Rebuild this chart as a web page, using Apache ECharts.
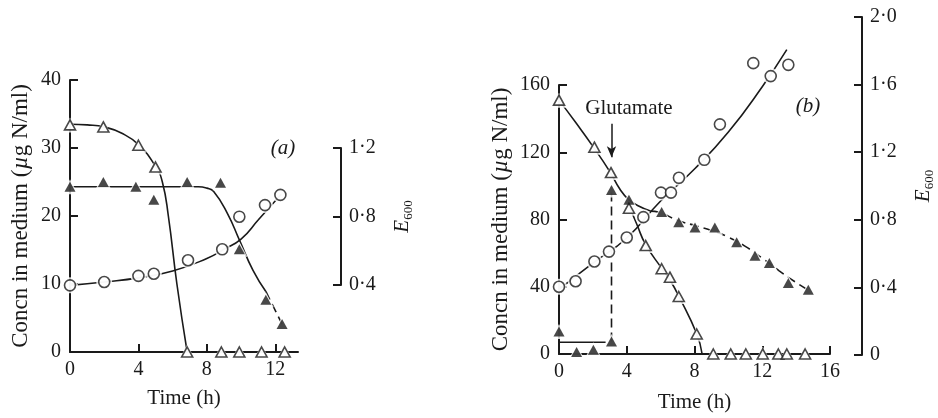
<!DOCTYPE html>
<html lang="en">
<head>
<meta charset="utf-8" />
<title>Concn in medium vs time</title>
<style>
  html, body { margin: 0; padding: 0; background: #fff; }
  #chart { width: 938px; height: 418px; }
</style>
</head>
<body>
<div id="chart"></div>
<script src="https://cdn.jsdelivr.net/npm/echarts@6/dist/echarts.min.js"></script>
<script>
// ---- panel (a) ----  [time (h), concn (ug N/ml)] ; cells as [time, E600]
const aOpenTri = [[0, 33.4], [1.95, 33.1], [4, 30.4], [5, 27.2], [6.85, 0], [8.85, 0], [9.9, 0], [11.2, 0], [12.55, 0]];
const aOpenFit = [[0, 33.5], [1, 33.4], [2, 33.1], [3, 32.2], [4, 30.5], [5, 27.3], [5.4, 25], [5.75, 20], [6.25, 10], [6.85, 0]];
const aOpenZero = [[6.85, 0], [13.33, 0]];
const aFilledTri = [[0, 24.3], [1.95, 25.0], [3.85, 24.3], [4.9, 22.4], [6.85, 25.0], [8.8, 24.9], [9.9, 15.1], [11.45, 7.7], [12.4, 4.1]];
const aFilledFit = [[0, 24.3], [3, 24.3], [6, 24.3], [7.5, 24.3], [8, 24.1], [8.4, 23.6], [9.2, 20.4], [9.9, 16.5], [10.7, 12], [11.45, 8.9]];
const aFilledTail = [[11.45, 8.9], [12.4, 4.1]];
const aCells = [[0, 0.392], [2, 0.412], [4, 0.448], [4.9, 0.46], [6.9, 0.54], [8.9, 0.604], [9.9, 0.796], [11.4, 0.864], [12.3, 0.924]];
const aCellsFit = [[0, 0.392], [2, 0.412], [4, 0.436], [6, 0.476], [8, 0.55], [9, 0.604], [10, 0.664], [11, 0.776], [12.35, 0.928]];

// ---- panel (b) ----
const bOpenTri = [[0, 151], [2.09, 123], [3.07, 107.9], [4.13, 86.7], [5.12, 64.5], [6.06, 50.7], [6.55, 45.7], [7.07, 34.2], [8.13, 11.9],
  [9.11, 0], [10.14, 0], [11.03, 0], [12.03, 0], [12.95, 0], [13.45, 0], [14.53, 0]];
const bOpenFit = [[0, 151], [1, 137.5], [2, 123.5], [3, 108.5], [3.6, 98], [4.1, 92], [4.7, 88], [5.4, 85]];
const bOpenFall = [[4.15, 88], [4.6, 77], [5.12, 65], [6.06, 51], [6.55, 44], [7.07, 34.5], [8.13, 12], [8.45, 0]];
const bOpenZero = [[8.45, 0], [15, 0]];
const bFilledTri = [[0, 13.4], [1.04, 1.2], [2.03, 2.6], [3.1, 7.5], [3.1, 97.6], [4.13, 91.7], [6.06, 84.4], [7.07, 78.4], [8.03, 75.2],
  [9.2, 75.2], [10.49, 66.5], [11.57, 58.4], [12.42, 54.1], [13.54, 42.2], [14.72, 38.2]];
const bFilledFit = [[5.4, 85], [6, 84], [7, 79.5], [8, 76.5], [9, 73.5], [10, 69.5], [11, 64], [12, 57], [13, 49.5], [14, 42.5], [14.8, 37.5]];
const bGlutamateDrop = [[3.1, 7.5], [3.1, 97.6]];
const bBase = [[0, 7], [2.75, 7]];
const bCells = [[0, 0.40], [0.98, 0.433], [2.09, 0.55], [2.95, 0.609], [4.0, 0.693], [4.98, 0.814], [6.02, 0.96], [6.61, 0.96], [7.08, 1.048],
  [8.58, 1.155], [9.5, 1.366], [11.47, 1.73], [12.5, 1.653], [13.54, 1.72]];
const bCellsFit = [[0, 0.384], [2, 0.54], [4, 0.69], [6, 0.91], [8, 1.10], [10, 1.32], [12, 1.59], [13.45, 1.81]];

const aTicksX = [0, 4, 8, 12];

const ink = '#1a1a1a';
const serif = "'Liberation Serif', 'Times New Roman', serif";
const e600 = v => (v === 0 ? '0' : v.toFixed(1).replace('.', '·'));

function curve(data, xi, yi, dashed, smooth) {
  return {
    type: 'line', data, xAxisIndex: xi, yAxisIndex: yi,
    smooth: smooth === undefined ? 0.5 : smooth,
    showSymbol: false, symbol: 'none', clip: false, silent: true, z: 2,
    lineStyle: { color: ink, width: 1.6, type: dashed ? [9, 5] : 'solid' }
  };
}

function marks(data, xi, yi, kind) {
  const tri = kind !== 'circle';
  const size = tri ? [11, 10] : 11;
  const halo = tri ? [16, 15] : 16;
  return [
    { type: 'scatter', data, xAxisIndex: xi, yAxisIndex: yi, clip: false, silent: true, z: 3,
      symbol: tri ? 'triangle' : 'circle', symbolSize: halo, itemStyle: { color: '#fff' } },
    { type: 'scatter', data, xAxisIndex: xi, yAxisIndex: yi, clip: false, silent: true, z: 4,
      symbol: tri ? 'triangle' : 'circle', symbolSize: size,
      itemStyle: kind === 'filled' ? { color: ink } : { color: '#fff', borderColor: ink, borderWidth: 1.6 } }
  ];
}

const axisLine = { show: true, onZero: false, lineStyle: { color: ink, width: 2 } };
const axisTick = { show: true, inside: true, length: 8, lineStyle: { color: ink, width: 2 } };
const axisLabel = { color: ink, fontFamily: serif, fontSize: 20, margin: 8 };
const nameStyle = { color: ink, fontFamily: serif, fontSize: 21 };
const concName = '{n|Concn in medium (}{i|µ}{n|g N/ml)}';
const concRich = { n: { fontFamily: serif, fontSize: 23, color: ink }, i: { fontFamily: serif, fontSize: 23, fontStyle: 'italic', color: ink } };
const e600Rich = {
  e: { fontFamily: serif, fontSize: 21, fontStyle: 'italic', color: ink, lineHeight: 26, verticalAlign: 'middle' },
  s: { fontFamily: serif, fontSize: 13, color: ink, lineHeight: 13, verticalAlign: 'bottom' }
};
const tagLabel = txt => ({ show: true, position: 'inside', formatter: txt, color: ink, fontFamily: serif, fontSize: 21, fontStyle: 'italic' });

const chart = echarts.init(document.getElementById('chart'), null, { renderer: 'canvas' });

chart.setOption({
  animation: false,
  backgroundColor: '#fff',
  grid: [
    { left: 70, top: 80, width: 228, height: 272 },   // (a) main
    { left: 70, top: 148, width: 271, height: 137 },  // (a) E600 axis
    { left: 559, top: 85, width: 271, height: 270 },  // (b) main
    { left: 559, top: 17, width: 303, height: 338 }   // (b) E600 axis
  ],
  xAxis: [
    { gridIndex: 0, type: 'value', min: 0, max: 13.33, name: 'Time (h)', nameLocation: 'middle', nameGap: 36, nameTextStyle: nameStyle,
      axisLine, axisTick: { ...axisTick, customValues: aTicksX }, axisLabel: { ...axisLabel, customValues: aTicksX }, splitLine: { show: false } },
    { gridIndex: 1, type: 'value', min: 0, max: 1, show: false },
    { gridIndex: 2, type: 'value', min: 0, max: 16, interval: 4, name: 'Time (h)', nameLocation: 'middle', nameGap: 38, nameTextStyle: nameStyle,
      axisLine, axisTick, axisLabel, splitLine: { show: false } },
    { gridIndex: 3, type: 'value', min: 0, max: 1, show: false }
  ],
  yAxis: [
    { gridIndex: 0, type: 'value', min: 0, max: 40, interval: 10, name: concName, nameLocation: 'middle', nameGap: 38, nameRotate: 90,
      nameTextStyle: { ...nameStyle, rich: concRich }, axisLine, axisTick, axisLabel: { ...axisLabel, margin: 9 }, splitLine: { show: false } },
    { gridIndex: 0, type: 'value', min: 0, max: 1.6, position: 'right', show: false },
    { gridIndex: 1, type: 'value', min: 0.4, max: 1.2, interval: 0.4, position: 'right', name: '{e|E}{s|600}', nameLocation: 'middle', nameGap: 48,
      nameRotate: 90, nameTextStyle: { ...nameStyle, rich: e600Rich }, axisLine, axisTick, axisLabel: { ...axisLabel, formatter: e600 }, splitLine: { show: false } },
    { gridIndex: 2, type: 'value', min: 0, max: 160, interval: 40, name: concName, nameLocation: 'middle', nameGap: 47, nameRotate: 90,
      nameTextStyle: { ...nameStyle, rich: concRich }, axisLine, axisTick, axisLabel: { ...axisLabel, margin: 9 }, splitLine: { show: false } },
    { gridIndex: 2, type: 'value', min: 0, max: 1.6, position: 'right', show: false },
    { gridIndex: 3, type: 'value', min: 0, max: 2.0, interval: 0.4, position: 'right', name: '{e|E}{s|600}', nameLocation: 'middle', nameGap: 48,
      nameRotate: 90, nameTextStyle: { ...nameStyle, rich: e600Rich }, axisLine, axisTick, axisLabel: { ...axisLabel, formatter: e600 }, splitLine: { show: false } }
  ],
  series: [
    // (a) fitted curves
    curve(aOpenFit, 0, 0, false),
    curve(aOpenZero, 0, 0, true, false),
    { ...curve(aFilledFit, 0, 0, false),
      markPoint: { silent: true, symbol: 'circle', symbolSize: 0, label: tagLabel('(a)'), data: [{ coord: [12.45, 30] }] } },
    curve(aFilledTail, 0, 0, true, false),
    curve(aCellsFit, 0, 1, false),
    // (a) points
    ...marks(aOpenTri, 0, 0, 'open'),
    ...marks(aFilledTri, 0, 0, 'filled'),
    ...marks(aCells, 0, 1, 'circle'),

    // (b) fitted curves
    curve(bOpenFit, 2, 3, false),
    curve(bOpenFall, 2, 3, false),
    curve(bOpenZero, 2, 3, true, false),
    curve(bFilledFit, 2, 3, true),
    curve(bBase, 2, 3, false, false),
    { ...curve(bGlutamateDrop, 2, 3, true, false),
      markLine: {
        silent: true, symbol: ['none', 'arrow'], symbolSize: [7, 11],
        lineStyle: { color: ink, width: 1.5, type: 'solid' }, label: { show: false },
        data: [[{ coord: [3.1, 137] }, { coord: [3.1, 117] }]]
      },
      markPoint: {
        silent: true, symbol: 'circle', symbolSize: 0,
        data: [
          { coord: [4.13, 146], label: { show: true, position: 'inside', formatter: 'Glutamate', color: ink, fontFamily: serif, fontSize: 21 } },
          { coord: [14.7, 147], label: tagLabel('(b)') }
        ]
      } },
    curve(bCellsFit, 2, 4, false),
    // (b) points
    ...marks(bOpenTri, 2, 3, 'open'),
    ...marks(bFilledTri, 2, 3, 'filled'),
    ...marks(bCells, 2, 4, 'circle')
  ]
});
</script>
</body>
</html>
